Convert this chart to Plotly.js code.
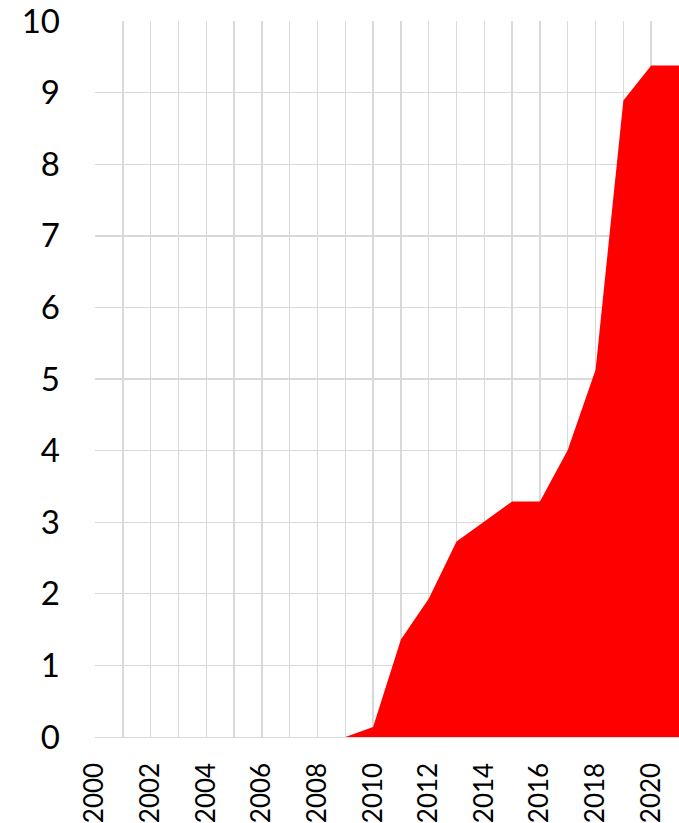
<!DOCTYPE html>
<html>
<head>
<meta charset="utf-8">
<script src="https://cdn.plot.ly/plotly-3.0.1.min.js"></script>
<style>html,body{margin:0;padding:0;background:#fff;}#chart{width:679px;height:823px;}</style>
</head>
<body>
<div id="chart"></div>
<script>
var years = [2000,2001,2002,2003,2004,2005,2006,2007,2008,2009,2010,2011,2012,2013,2014,2015,2016,2017,2018,2019,2020,2021];
var values = [0,0,0,0,0,0,0,0,0,0,0.14,1.36,1.93,2.73,3.01,3.29,3.29,4.01,5.13,8.89,9.38,9.38];
var xTickLabels = ['2000','2002','2004','2006','2008','2010','2012','2014','2016','2018','2020'];
var yTicks = [0,1,2,3,4,5,6,7,8,9,10];

var xText = years.map(function (y) { return xTickLabels.indexOf(String(y)) >= 0 ? String(y) : ''; });
var fam = 'Lato, "Open Sans", sans-serif';

Plotly.newPlot('chart', [{
  x: years,
  y: values,
  type: 'scatter',
  mode: 'lines',
  fill: 'tozeroy',
  fillcolor: '#ff0000',
  line: {width: 0, color: '#ff0000'},
  hoverinfo: 'none'
}], {
  width: 679,
  height: 823,
  margin: {l: 95, r: 0, t: 21, b: 86},
  paper_bgcolor: '#ffffff',
  plot_bgcolor: '#ffffff',
  showlegend: false,
  font: {family: fam, size: 26, color: '#000000'},
  xaxis: {
    range: [2000, 2021],
    tickmode: 'array',
    tickvals: years,
    ticktext: xText,
    tickangle: -90,
    showgrid: true,
    gridcolor: '#d9d9d9',
    gridwidth: 1.4,
    zeroline: false,
    showline: true,
    linecolor: '#d9d9d9',
    linewidth: 1.4,
    ticks: '',
    ticklabelstandoff: 14,
    ticklabeloverflow: 'allow',
    tickfont: {family: fam, size: 26, color: '#000000'}
  },
  yaxis: {
    range: [0, 10],
    tickmode: 'array',
    tickvals: yTicks,
    ticktext: yTicks.map(String),
    showgrid: true,
    gridcolor: '#d9d9d9',
    gridwidth: 1.4,
    zeroline: false,
    showline: false,
    ticks: '',
    ticklabelstandoff: 34,
    ticklabeloverflow: 'allow',
    tickfont: {family: fam, size: 33, color: '#000000'}
  }
}, {staticPlot: true});
</script>
</body>
</html>
